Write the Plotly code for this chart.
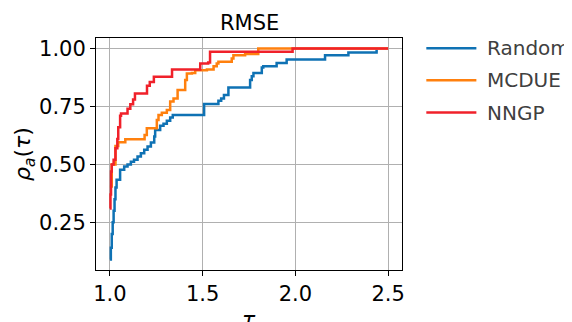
import plotly.graph_objects as go

# ---- data (performance profile, step functions) ----
random_tau = [1.0, 1.005, 1.01, 1.015, 1.02, 1.025, 1.03, 1.036, 1.055, 1.077, 1.095, 1.113,
              1.13, 1.149, 1.167, 1.185, 1.203, 1.221, 1.239, 1.244, 1.271, 1.289, 1.307,
              1.325, 1.339, 1.508, 1.585, 1.60, 1.615, 1.639, 1.756, 1.765, 1.774, 1.819,
              1.827, 1.899, 1.953, 2.16, 2.286, 2.438, 2.445]
random_rho = [0.09, 0.14, 0.20, 0.25, 0.30, 0.35, 0.40, 0.434, 0.477, 0.491, 0.50, 0.512,
              0.52, 0.534, 0.548, 0.563, 0.577, 0.595, 0.62, 0.649, 0.667, 0.675, 0.689,
              0.703, 0.713, 0.761, 0.775, 0.785, 0.80, 0.832, 0.864, 0.88, 0.895, 0.918,
              0.924, 0.938, 0.953, 0.971, 0.983, 0.99, 0.99]

mcdue_tau = [1.0, 1.01, 1.03, 1.045, 1.083, 1.187, 1.199, 1.253, 1.262, 1.28, 1.307, 1.325,
             1.343, 1.365, 1.406, 1.415, 1.442, 1.46, 1.523, 1.559, 1.576, 1.585, 1.657,
             1.666, 1.729, 1.80, 2.5]
mcdue_rho = [0.405, 0.50, 0.58, 0.596, 0.609, 0.627, 0.656, 0.692, 0.713, 0.723, 0.735, 0.771,
             0.785, 0.821, 0.864, 0.892, 0.895, 0.906, 0.91, 0.924, 0.935, 0.943, 0.957,
             0.971, 0.976, 1.0, 1.0]

nngp_tau = [1.0, 1.003, 1.006, 1.01, 1.02, 1.03, 1.04, 1.045, 1.055, 1.06, 1.095, 1.11,
            1.125, 1.135, 1.20, 1.215, 1.237, 1.335, 1.487, 1.53, 1.54, 1.985, 2.5]
nngp_rho = [0.31, 0.37, 0.47, 0.50, 0.52, 0.57, 0.61, 0.66, 0.71, 0.72, 0.74, 0.76,
            0.78, 0.806, 0.84, 0.856, 0.878, 0.91, 0.935, 0.94, 0.986, 1.0, 1.0]

series_names = ["Random", "MCDUE", "NNGP"]
series_colors = ["#0f72b4", "#ff800e", "#f0212a"]
series_x = [random_tau, mcdue_tau, nngp_tau]
series_y = [random_rho, mcdue_rho, nngp_rho]

x_ticks = [1.0, 1.5, 2.0, 2.5]
y_ticks = [0.25, 0.50, 0.75, 1.00]

FONT = "DejaVu Sans"
OFF = 8  # page body margin of the html page
W, H = 572 - OFF, 322 - OFF
L, R, T, B = 96 - OFF, 401.7 - OFF, 37.5 - OFF, 270.4 - OFF

fig = go.Figure()
for name, col, xs, ys in zip(series_names, series_colors, series_x, series_y):
    fig.add_trace(go.Scatter(x=xs, y=ys, mode="lines", name=name,
                             line=dict(color=col, width=2.5, shape="hv"),
                             showlegend=False))

axis_common = dict(showline=True, linecolor="black", linewidth=1, mirror=True,
                   showgrid=True, gridcolor="#b0b0b0", gridwidth=1,
                   ticks="outside", ticklen=5, tickwidth=1, tickcolor="black",
                   zeroline=False,
                   tickfont=dict(family=FONT, size=21, color="black"))

fig.update_xaxes(range=[0.925, 2.575], tickvals=x_ticks,
                 ticktext=[f"{v:.1f}" for v in x_ticks], **axis_common)
fig.update_yaxes(range=[0.0445, 1.0455], tickvals=y_ticks,
                 ticktext=[f"{v:.2f}" for v in y_ticks], **axis_common)

pw, ph = R - L, B - T

def px(x):
    return (x - OFF - L) / pw

def py(y):
    return (B - (y - OFF)) / ph

annotations = [
    dict(text="RMSE", x=0.5, y=1, xref="paper", yref="paper", xanchor="center",
         yanchor="bottom", yshift=1, showarrow=False,
         font=dict(family=FONT, size=21, color="black")),
    dict(text="<i>ρ</i><sub><i>a</i></sub>(<i>τ</i>)", x=px(24), y=0.5, xref="paper", yref="paper",
         xanchor="center", yanchor="middle", textangle=-90, showarrow=False,
         font=dict(family=FONT, size=22, color="black")),
    dict(text="<i>τ</i>", x=0.5, y=py(320), xref="paper", yref="paper", xanchor="center",
         yanchor="middle", showarrow=False,
         font=dict(family=FONT, size=22, color="black")),
]
shapes = []
legend_rows = [47.7, 80.0, 112.3]
for name, col, yy in zip(series_names, series_colors, legend_rows):
    shapes.append(dict(type="line", xref="paper", yref="paper",
                       x0=px(426), x1=px(476), y0=py(yy), y1=py(yy),
                       line=dict(color=col, width=2.5)))
    annotations.append(dict(text=name, x=px(485), y=py(yy), xref="paper", yref="paper",
                            xanchor="left", yanchor="middle", showarrow=False,
                            font=dict(family=FONT, size=20, color="#404040")))

fig.update_layout(width=W, height=H, plot_bgcolor="white", paper_bgcolor="white",
                  margin=dict(l=L, r=W - R, t=T, b=H - B, autoexpand=False),
                  annotations=annotations, shapes=shapes, showlegend=False)

fig.write_html("out.html")
